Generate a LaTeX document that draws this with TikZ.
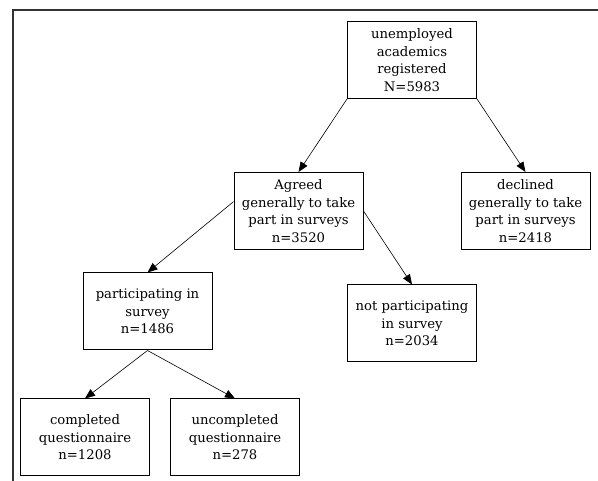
\documentclass[tikz,border=0pt]{standalone}
\usepackage{fontspec}
\setmainfont{DejaVu Serif}
\usetikzlibrary{arrows.meta,calc}
\tikzset{
  stage/.style={draw, line width=1pt, minimum width=129pt, minimum height=77pt, align=center, inner sep=2pt, font=\fontsize{13.2}{17.5}\selectfont},
  flow/.style={-{Triangle[length=10pt,width=8pt]}, line width=0.6pt}
}
\begin{document}
\begin{tikzpicture}[x=1pt,y=-1pt]
\useasboundingbox (0,0) rectangle (598,481);
\draw[line width=1.5pt, black!80] (13,481) -- (13,10) -- (598,10);
\node[stage] (registered) at (412,60) {unemployed\\academics\\registered\\N=5983};
\node[stage] (agreed) at (298.5,211) {Agreed\\generally to take\\part in surveys\\n=3520};
\node[stage] (declined) at (525.5,211) {declined\\generally to take\\part in surveys\\n=2418};
\node[stage] (participating) at (147.5,311.5) {participating in\\survey\\n=1486};
\node[stage] (notpart) at (412,323.5) {not participating\\in survey\\n=2034};
\node[stage] (completed) at (85,437.5) {completed\\questionnaire\\n=1208};
\node[stage] (uncompleted) at (235,437.5) {uncompleted\\questionnaire\\n=278};
\draw[flow] (registered.south west) -- (agreed.north);
\draw[flow] (registered.south east) -- (declined.north);
\draw[flow] ($(agreed.north west)!0.38!(agreed.south west)$) -- (participating.north);
\draw[flow] (agreed.east) -- (notpart.north);
\draw[flow] (participating.south) -- (completed.north);
\draw[flow] (participating.south) -- (uncompleted.north);
\end{tikzpicture}
\end{document}
